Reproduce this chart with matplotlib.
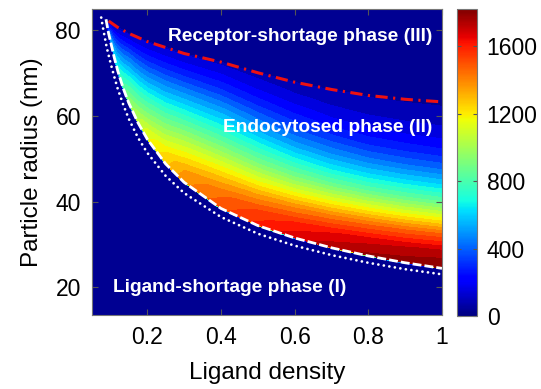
import numpy as np
import matplotlib
matplotlib.use("Agg")
import matplotlib.pyplot as plt
from matplotlib import cm, colors

plt.rcParams['font.family'] = ['Liberation Sans', 'DejaVu Sans']

# ---- data ----
# lower boundary of the endocytosed phase (white dashed)
lower_x = [0.088, 0.095, 0.1, 0.11, 0.12, 0.135, 0.15, 0.175, 0.2, 0.25, 0.3, 0.4, 0.5, 0.6, 0.7, 0.8, 0.9, 1.0]
lower_y = [82.6, 79.3, 77.5, 73.8, 70.5, 66.4, 63.0, 58.4, 54.6, 48.8, 44.5, 38.4, 34.4, 31.5, 29.2, 27.3, 25.7, 24.4]
# white dotted curve
dotted_x = [0.075, 0.08, 0.09, 0.1, 0.11, 0.12, 0.135, 0.15, 0.175, 0.2, 0.25, 0.3, 0.4, 0.5, 0.6, 0.7, 0.8, 0.9, 1.0]
dotted_y = [83.0, 80.5, 76.0, 72.5, 69.3, 66.3, 62.6, 59.3, 54.9, 51.4, 46.0, 42.0, 36.4, 32.5, 29.7, 27.5, 25.7, 24.2, 23.0]
# upper boundary (red dash-dot)
upper_x = [0.095, 0.12, 0.15, 0.2, 0.3, 0.4, 0.5, 0.6, 0.7, 0.8, 0.9, 1.0]
upper_y = [82.2, 80.7, 79.3, 77.4, 74.6, 72.6, 70.1, 67.9, 66.2, 64.8, 63.9, 63.3]

# field value vs ligand density (rows) and relative position s between
# the lower (s=0) and upper (s=1) boundary (columns)
field_x = [0.09, 0.1, 0.15, 0.2, 0.3, 0.4, 0.5, 0.6, 0.7, 0.8, 1.0]
field_s = [0.0, 0.1, 0.2, 0.3, 0.4, 0.5, 0.6, 0.7, 0.8, 0.9, 1.0]
field_vals = [
    [300, 290, 270, 250, 230, 200, 180, 160, 130, 100, 70],
    [550, 520, 480, 430, 380, 330, 280, 230, 180, 130, 80],
    [950, 900, 820, 740, 650, 560, 470, 380, 280, 190, 110],
    [1150, 1100, 980, 870, 760, 640, 520, 410, 300, 200, 110],
    [1380, 1330, 1200, 1060, 910, 760, 610, 470, 330, 210, 110],
    [1500, 1440, 1300, 1130, 950, 780, 620, 470, 320, 200, 100],
    [1600, 1520, 1340, 1130, 920, 740, 570, 420, 280, 170, 90],
    [1680, 1580, 1380, 1130, 890, 690, 510, 360, 240, 140, 75],
    [1740, 1630, 1410, 1140, 870, 650, 470, 320, 200, 120, 65],
    [1780, 1670, 1440, 1150, 860, 630, 440, 290, 180, 105, 55],
    [1820, 1720, 1480, 1160, 850, 610, 410, 260, 160, 90, 50],
]
vmax = 1820
cbar_ticks = [0, 400, 800, 1200, 1600]
x_ticks = [0.2, 0.4, 0.6, 0.8, 1]
x_ticklabels = ["0.2", "0.4", "0.6", "0.8", "1"]
y_ticks = [20, 40, 60, 80]

# ---- build field on a grid ----
X = np.linspace(0.05, 1.0, 320)
Y = np.linspace(13.5, 85, 320)
XX, YY = np.meshgrid(X, Y)
L = np.interp(X, lower_x, lower_y)
U = np.interp(X, upper_x, upper_y)
fv = np.array(field_vals, dtype=float)
Z = np.zeros_like(XX)
for i, xv in enumerate(X):
    if xv < lower_x[0] or U[i] <= L[i]:
        continue
    prof = np.array([np.interp(xv, field_x, fv[:, j]) for j in range(len(field_s))])
    s = (Y - L[i]) / (U[i] - L[i])
    col = np.interp(s, field_s, prof)
    col[(s < 0) | (s > 1)] = 0.0
    Z[:, i] = col

fig = plt.figure(figsize=(5.41, 3.89), dpi=100)
ax = fig.add_axes([92/541, 1-315/389, 350/541, 306/389])
norm = colors.Normalize(0, vmax)
levels = np.linspace(0, vmax, 31)
ax.contourf(XX, YY, Z, levels=levels, cmap='jet', norm=norm)

ax.plot(dotted_x, dotted_y, color='white', lw=2.0, linestyle=(0, (0.01, 2.0)),
        dash_capstyle='round')
ax.plot(lower_x, lower_y, color='white', lw=2.0, linestyle=(0, (3.2, 1.1)))
ax.plot(upper_x, upper_y, color='#ee1111', lw=2.2, linestyle=(0, (4, 1.8, 0.7, 1.8)))

ax.set_xlim(0.05, 1.0)
ax.set_ylim(13.5, 85)
ax.set_xticks(x_ticks)
ax.set_xticklabels(x_ticklabels)
ax.set_yticks(y_ticks)
ax.tick_params(direction='in', top=True, right=True, labelsize=16.5, length=4,
               color='#555555', width=0.8, pad=8)
for sp in ax.spines.values():
    sp.set_color('#777777')
    sp.set_linewidth(0.8)
ax.set_xlabel("Ligand density", fontsize=17.5, labelpad=9)
ax.set_ylabel("Particle radius (nm)", fontsize=17.5, labelpad=9)

tkw = dict(color='white', fontweight='bold', fontsize=13.8)
ax.text(0.974, 78.6, "Receptor-shortage phase (III)", ha='right', va='center', **tkw)
ax.text(0.974, 57.2, "Endocytosed phase (II)", ha='right', va='center', **tkw)
ax.text(0.107, 20.0, "Ligand-shortage phase (I)", ha='left', va='center', **tkw)

cax = fig.add_axes([457/541, 1-316/389, 20/541, 307/389])
cb = fig.colorbar(cm.ScalarMappable(norm=norm, cmap='jet'), cax=cax, ticks=cbar_ticks)
cb.ax.tick_params(direction='in', labelsize=16.5, length=3, color='#555555',
                  left=True, right=True, pad=7)
cb.outline.set_edgecolor('#777777')
cb.outline.set_linewidth(0.8)

fig.savefig("out.png", dpi=100)
